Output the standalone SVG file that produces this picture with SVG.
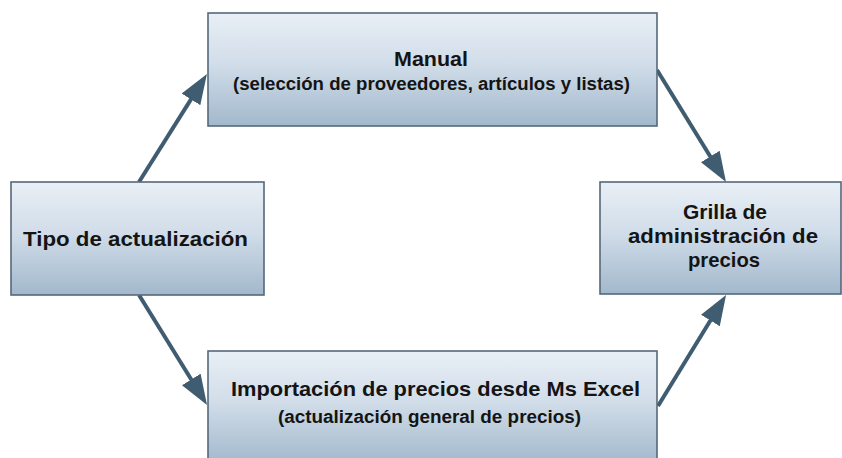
<svg xmlns="http://www.w3.org/2000/svg" width="842" height="458" viewBox="0 0 842 458">
  <defs>
    <linearGradient id="boxGrad" x1="0" y1="0" x2="0" y2="1">
      <stop offset="0" stop-color="#e9eff6"/>
      <stop offset="0.45" stop-color="#d1dde9"/>
      <stop offset="1" stop-color="#a2b8cc"/>
    </linearGradient>
    <marker id="arrow" markerUnits="userSpaceOnUse" viewBox="0 0 30 22" refX="10" refY="11" markerWidth="30" markerHeight="22" orient="auto">
      <path d="M0,0 L30,11 L0,22 z" fill="#3f5c70"/>
    </marker>
  </defs>
  <style>
    .box { fill: url(#boxGrad); stroke: #56687a; stroke-width: 1.6; }
    .title { font-family: "Liberation Sans", Arial, sans-serif; font-weight: bold; font-size: 21px; fill: #141414; text-anchor: middle; }
    .sub { font-family: "Liberation Sans", Arial, sans-serif; font-weight: bold; font-size: 17.5px; fill: #141414; text-anchor: middle; }
    .conn { stroke: #3f5c70; stroke-width: 4; fill: none; marker-end: url(#arrow); }
  </style>
  <rect width="842" height="458" fill="#ffffff"/>

  <g id="connectors">
    <line class="conn" x1="139" y1="182" x2="196.3" y2="90.9"/>
    <line class="conn" x1="657" y1="70" x2="715.5" y2="165"/>
    <line class="conn" x1="139" y1="295" x2="196.5" y2="388"/>
    <line class="conn" x1="658" y1="406" x2="715.6" y2="312"/>
  </g>

  <g id="tipo">
    <rect class="box" x="11" y="182" width="253" height="113"/>
    <text class="title" x="135.5" y="246" textLength="225" lengthAdjust="spacingAndGlyphs">Tipo de actualización</text>
  </g>

  <g id="manual">
    <rect class="box" x="208" y="13" width="449" height="113"/>
    <text class="title" x="431" y="66" textLength="74" lengthAdjust="spacingAndGlyphs">Manual</text>
    <text class="sub" x="431.5" y="90" textLength="397" lengthAdjust="spacingAndGlyphs">(selección de proveedores, artículos y listas)</text>
  </g>

  <g id="importacion">
    <rect class="box" x="208" y="351" width="449" height="113"/>
    <text class="title" x="435.5" y="396" textLength="409" lengthAdjust="spacingAndGlyphs">Importación de precios desde Ms Excel</text>
    <text class="sub" x="429.5" y="423" textLength="303" lengthAdjust="spacingAndGlyphs">(actualización general de precios)</text>
  </g>

  <g id="grilla">
    <rect class="box" x="600" y="182" width="241" height="112"/>
    <text class="title" x="725" y="219" textLength="84" lengthAdjust="spacingAndGlyphs">Grilla de</text>
    <text class="title" x="723" y="243" textLength="190" lengthAdjust="spacingAndGlyphs">administración de</text>
    <text class="title" x="724" y="267" textLength="72" lengthAdjust="spacingAndGlyphs">precios</text>
  </g>
</svg>
